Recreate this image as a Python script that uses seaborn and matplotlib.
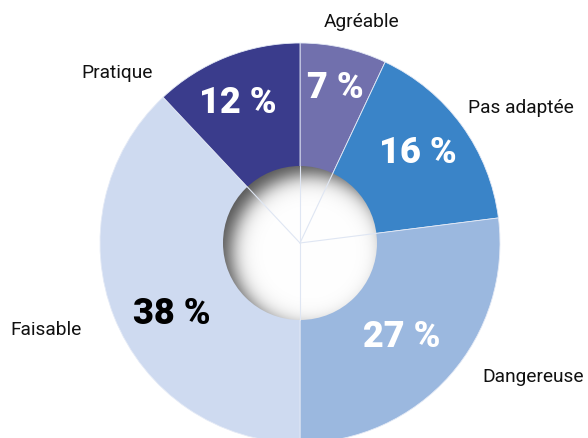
import numpy as np
import matplotlib
matplotlib.use("Agg")
import matplotlib.pyplot as plt
import seaborn as sns
from matplotlib.patches import Circle

sns.set_style("white")
plt.rcParams["font.family"] = ["Roboto", "DejaVu Sans"]

# Data
categories = ["Agréable", "Pas adaptée", "Dangereuse", "Faisable", "Pratique"]
values = [7, 16, 27, 38, 12]
colors = ["#7170ad", "#3a84c8", "#9bb8df", "#cedaf0", "#3a3c8c"]
pct_colors = ["white", "white", "white", "black", "white"]

W, H = 588, 439
fig = plt.figure(figsize=(W / 100, H / 100), dpi=100)
ax = fig.add_axes([0, 0, 1, 1])

cx, cy = 300, H - 244
R = 200
r_hole = 77

wedges, _ = ax.pie(values, colors=colors, startangle=90, counterclock=False,
                   center=(cx, cy), radius=R, frame=True,
                   wedgeprops=dict(edgecolor="#e4eaf6", linewidth=0.6))
ax.set_xlim(0, W)
ax.set_ylim(0, H)
ax.set_aspect("equal")
ax.axis("off")

# hole with soft inner shadow from the top-left
n = 400
xs = np.linspace(-r_hole, r_hole, n)
X, Y = np.meshgrid(xs, xs)
ox, oy = 9, -9
d = np.hypot(X - ox, Y - oy)
sigma = 10
s = 1 / (1 + np.exp(-1.7 * (d - r_hole) / sigma))
g = 1 - 0.7 * s
img = np.dstack([g, g, g])
im = ax.imshow(img, extent=(cx - r_hole, cx + r_hole, cy - r_hole, cy + r_hole),
               origin="lower", zorder=3, interpolation="bilinear")
im.set_clip_path(Circle((cx, cy), r_hole, transform=ax.transData))

# faint wedge boundary lines over the hole
bounds = np.cumsum([0] + values[:-1])
for b in bounds:
    a = np.deg2rad(90 - b * 3.6)
    ax.plot([cx, cx + r_hole * np.cos(a)], [cy, cy + r_hole * np.sin(a)],
            color="#dfe6f3", lw=0.8, zorder=4)

# percentage labels
pct_pos = [(335, 88), (418, 153), (402, 337), (172, 314), (238, 103)]
for v, (px, py), c in zip(values, pct_pos, pct_colors):
    ax.text(px, H - py, f"{v} %", color=c, fontsize=26, fontweight="heavy",
            ha="center", va="center", zorder=5)

# category labels
lab_pos = [(362, 22), (521, 108), (533, 377), (46, 330), (117, 73)]
for lab, (px, py) in zip(categories, lab_pos):
    ax.text(px, H - py, lab, color="#111111", fontsize=13.8,
            ha="center", va="center", zorder=5)

fig.savefig("out.png", dpi=100)
